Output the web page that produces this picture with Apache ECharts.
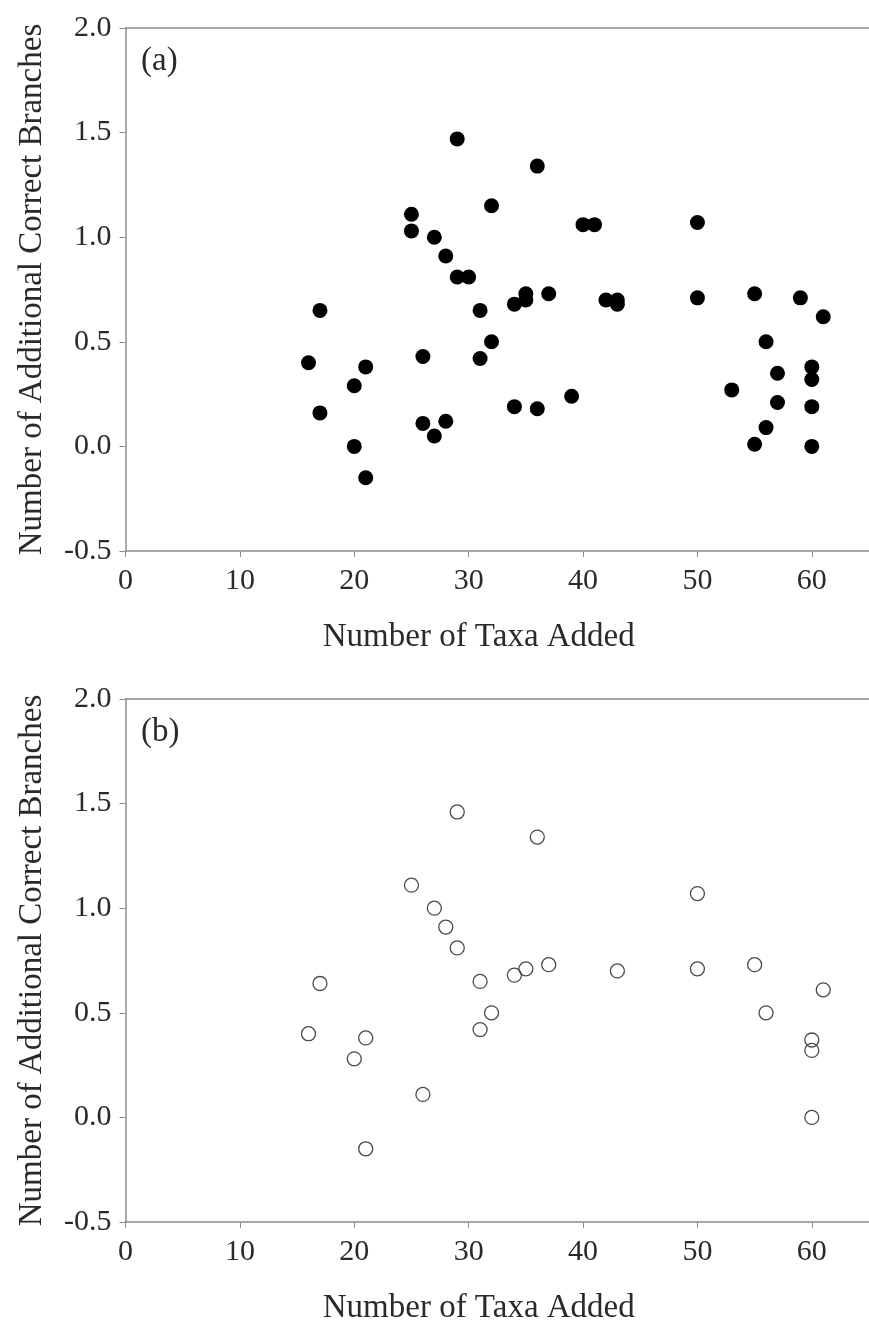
<!DOCTYPE html>
<html>
<head>
<meta charset="utf-8">
<title>Additional correct branches vs taxa added</title>
<script src="https://cdn.jsdelivr.net/npm/echarts@6/dist/echarts.min.js"></script>
<style>
  html, body { margin: 0; padding: 0; background: #fff; }
  #chart { width: 869px; height: 1328px; }
</style>
</head>
<body>
<div id="chart"></div>
<script>
// panel (a): filled circles
const taxaA = [16, 17, 17, 20, 20, 21, 21, 25, 25, 26, 26, 27, 27, 28, 28, 29, 29, 30, 31, 31, 32, 32,
  34, 34, 35, 35, 36, 36, 37, 39, 40, 41, 42, 43, 43, 50, 50, 53, 55, 55, 56, 56, 57, 57, 59,
  60, 60, 60, 60, 61]
const branchesA = [0.40, 0.65, 0.16, 0.29, 0.00, 0.38, -0.15, 1.11, 1.03, 0.43, 0.11, 1.00, 0.05, 0.91, 0.12, 1.47, 0.81, 0.81, 0.65, 0.42, 1.15, 0.50,
  0.68, 0.19, 0.73, 0.70, 1.34, 0.18, 0.73, 0.24, 1.06, 1.06, 0.70, 0.70, 0.68, 1.07, 0.71, 0.27, 0.73, 0.01, 0.50, 0.09, 0.35, 0.21, 0.71,
  0.38, 0.32, 0.19, 0.00, 0.62]

// panel (b): open circles
const taxaB = [16, 17, 20, 21, 21, 25, 26, 27, 28, 29, 29, 31, 31, 32, 34, 35, 36, 37, 43, 50, 50, 55, 56, 60, 60, 60, 61]
const branchesB = [0.40, 0.64, 0.28, 0.38, -0.15, 1.11, 0.11, 1.00, 0.91, 1.46, 0.81, 0.65, 0.42, 0.50, 0.68, 0.71, 1.34, 0.73, 0.70, 1.07, 0.71, 0.73, 0.50, 0.37, 0.32, 0.00, 0.61]

const xTicks = [0, 10, 20, 30, 40, 50, 60]
const yTicks = [-0.5, 0.0, 0.5, 1.0, 1.5, 2.0]
const panelLabels = ['(a)', '(b)']
const xName = 'Number of Taxa Added'
const yName = 'Number of Additional Correct Branches'

const font = 'Liberation Serif, Times New Roman, serif'
const axisGray = '#8c8c8c'
const textColor = '#2a2a2a'

function zip(xs, ys) {
  return xs.map((x, i) => [x, ys[i]])
}

const grids = [
  { left: 125.5, top: 28, right: -8, height: 523 },
  { left: 125.5, top: 699, right: -8, height: 523 }
]

const xAxes = []
const yAxes = []
grids.forEach((g, i) => {
  xAxes.push({
    type: 'value',
    gridIndex: i,
    min: xTicks[0],
    max: 65,
    interval: 10,
    name: xName,
    nameLocation: 'middle',
    nameGap: 70,
    nameTextStyle: { fontFamily: font, fontSize: 33, color: textColor, padding: [0, 37, 0, 0] },
    axisLine: { onZero: false, lineStyle: { color: axisGray, width: 1.5 } },
    axisTick: { length: 6, lineStyle: { color: axisGray } },
    axisLabel: { fontFamily: font, fontSize: 30, color: textColor, margin: 15, showMaxLabel: false },
    splitLine: { show: false }
  })
  // plain line along the top of the plot
  xAxes.push({
    type: 'value',
    gridIndex: i,
    position: 'top',
    min: 0,
    max: 65,
    axisLine: { show: true, onZero: false, lineStyle: { color: axisGray, width: 1.5 } },
    axisTick: { show: false },
    axisLabel: { show: false },
    splitLine: { show: false }
  })
  yAxes.push({
    type: 'value',
    gridIndex: i,
    min: yTicks[0],
    max: yTicks[yTicks.length - 1],
    interval: 0.5,
    name: yName,
    nameLocation: 'middle',
    nameGap: 77,
    nameTextStyle: { fontFamily: font, fontSize: 33, color: textColor },
    axisLine: { show: true, onZero: false, lineStyle: { color: axisGray, width: 1.5 } },
    axisTick: { show: true, length: 6, lineStyle: { color: axisGray } },
    axisLabel: {
      fontFamily: font,
      fontSize: 30,
      color: textColor,
      margin: 14,
      formatter: v => v.toFixed(1)
    },
    splitLine: { show: false }
  })
})

const chart = echarts.init(document.getElementById('chart'), null, { renderer: 'canvas' })
chart.setOption({
  animation: false,
  backgroundColor: '#fff',
  title: panelLabels.map((t, i) => ({
    text: t,
    left: 136,
    top: i === 0 ? 40 : 711,
    textStyle: { fontFamily: font, fontSize: 33, fontWeight: 'normal', color: textColor }
  })),
  grid: grids,
  xAxis: xAxes,
  yAxis: yAxes,
  series: [
    {
      type: 'scatter',
      xAxisIndex: 0,
      yAxisIndex: 0,
      symbolSize: 15,
      itemStyle: { color: '#000', opacity: 1 },
      data: zip(taxaA, branchesA)
    },
    {
      type: 'scatter',
      xAxisIndex: 2,
      yAxisIndex: 1,
      symbolSize: 14,
      itemStyle: { color: 'rgba(0,0,0,0)', borderColor: '#4a4a4a', borderWidth: 1.3, opacity: 1 },
      data: zip(taxaB, branchesB)
    }
  ]
})
</script>
</body>
</html>
